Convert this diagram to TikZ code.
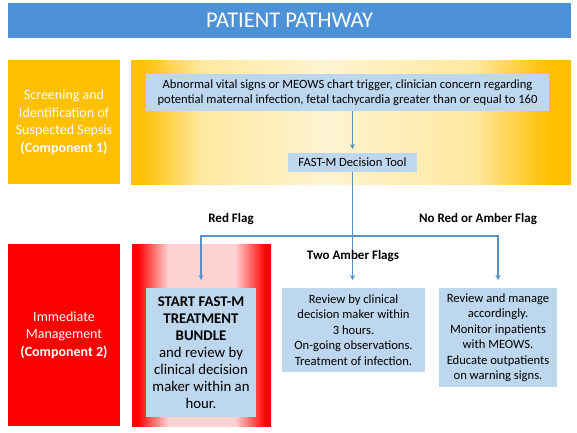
\documentclass[tikz,border=0pt]{standalone}
\usepackage{fontspec}
\setmainfont{Carlito}
\usetikzlibrary{arrows.meta}
\definecolor{titleblue}{RGB}{77,145,214}
\definecolor{gold}{RGB}{255,192,0}
\definecolor{cream}{RGB}{255,244,210}
\definecolor{cream2}{RGB}{255,232,160}
\definecolor{pboxred}{RGB}{255,0,0}
\definecolor{pink}{RGB}{255,210,210}
\definecolor{lblue}{RGB}{189,215,238}
\definecolor{linecol}{RGB}{90,145,196}
\pgfdeclarehorizontalshading{orshade}{100bp}{color(0bp)=(gold); color(25bp)=(gold); color(26bp)=(gold); color(33bp)=(cream2); color(47bp)=(cream); color(64bp)=(cream2); color(72.5bp)=(gold); color(75bp)=(gold); color(100bp)=(gold)}
\pgfdeclarehorizontalshading{redshade}{100bp}{color(0bp)=(pboxred); color(25bp)=(pboxred); color(27bp)=(pboxred); color(38bp)=(pink); color(62bp)=(pink); color(73bp)=(pboxred); color(75bp)=(pboxred); color(100bp)=(pboxred)}
\tikzset{
  panel/.style={inner sep=0pt, outer sep=0pt},
  lbox/.style={fill=lblue, inner sep=0pt, outer sep=0pt, align=center, font=\fontsize{12.6}{15.5}\selectfont},
  sidelabel/.style={panel, text=white, align=center, font=\fontsize{14}{17.5}\selectfont},
  flaglabel/.style={font=\fontsize{13}{15}\selectfont\bfseries},
  arr/.style={draw=linecol, line width=1.3pt, -{Stealth[length=5pt,width=5pt]}, shorten >=8pt},
  conn/.style={draw=linecol, line width=1.3pt}
}
\begin{document}
\begin{tikzpicture}[x=1pt,y=-1pt]
\useasboundingbox (0,0) rectangle (577,432);
\fill[white] (0,0) rectangle (577,432);
% title
\node[panel, fill=titleblue, minimum width=563pt, minimum height=35pt, text=white, font=\fontsize{22.5}{26}\selectfont] (title) at (289.5,20) {PATIENT PATHWAY};
% component 1
\node[sidelabel, fill=gold, minimum width=112pt, minimum height=124pt] (lorange) at (64,122) {Screening and\\Identification of\\Suspected Sepsis\\\textbf{(Component 1)}};
\node[panel, shading=orshade, minimum width=440pt, minimum height=124pt] (borange) at (351,122) {};
\node[lbox, minimum width=403pt, minimum height=37pt] (topbox) at (347.5,92.5) {Abnormal vital signs or MEOWS chart trigger, clinician concern regarding\\potential maternal infection, fetal tachycardia greater than or equal to 160};
\node[lbox, minimum width=129pt, minimum height=19pt] (fastm) at (352.5,162.5) {FAST-M Decision Tool};
% component 2
\node[sidelabel, fill=pboxred, minimum width=112pt, minimum height=182pt] (lred) at (64,335) {Immediate\\Management\\\textbf{(Component 2)}};
\node[panel, shading=redshade, minimum width=139pt, minimum height=182pt] (bred) at (201.5,335) {};
\node[lbox, minimum width=110pt, minimum height=129pt, font=\fontsize{14.8}{17}\selectfont] (startbox) at (201,352.5) {\textbf{START FAST-M}\\\textbf{TREATMENT}\\\textbf{BUNDLE}\\and review by\\clinical decision\\maker within an\\hour.};
\node[lbox, minimum width=143pt, minimum height=84pt] (midbox) at (353.5,330) {Review by clinical\\decision maker within\\3 hours.\\On-going observations.\\Treatment of infection.};
\node[lbox, minimum width=118pt, minimum height=99pt] (rightbox) at (498,337.5) {Review and manage\\accordingly.\\Monitor inpatients\\with MEOWS.\\Educate outpatients\\on warning signs.};
% connectors
\draw[arr, shorten >=4pt] (fastm.north |- topbox.south) -- (fastm.north);
\coordinate (jc) at (352.5,236);
\draw[arr] (fastm.south) -- (fastm.south |- midbox.north);
\draw[arr] (jc) -| (startbox.north);
\draw[arr] (jc) -| (rightbox.north);
% labels
\node[flaglabel] (lred1) at (231,219) {Red Flag};
\node[flaglabel] (lnone) at (478,219) {No Red or Amber Flag};
\node[flaglabel] (lamber) at (353,256) {Two Amber Flags};
\end{tikzpicture}
\end{document}
